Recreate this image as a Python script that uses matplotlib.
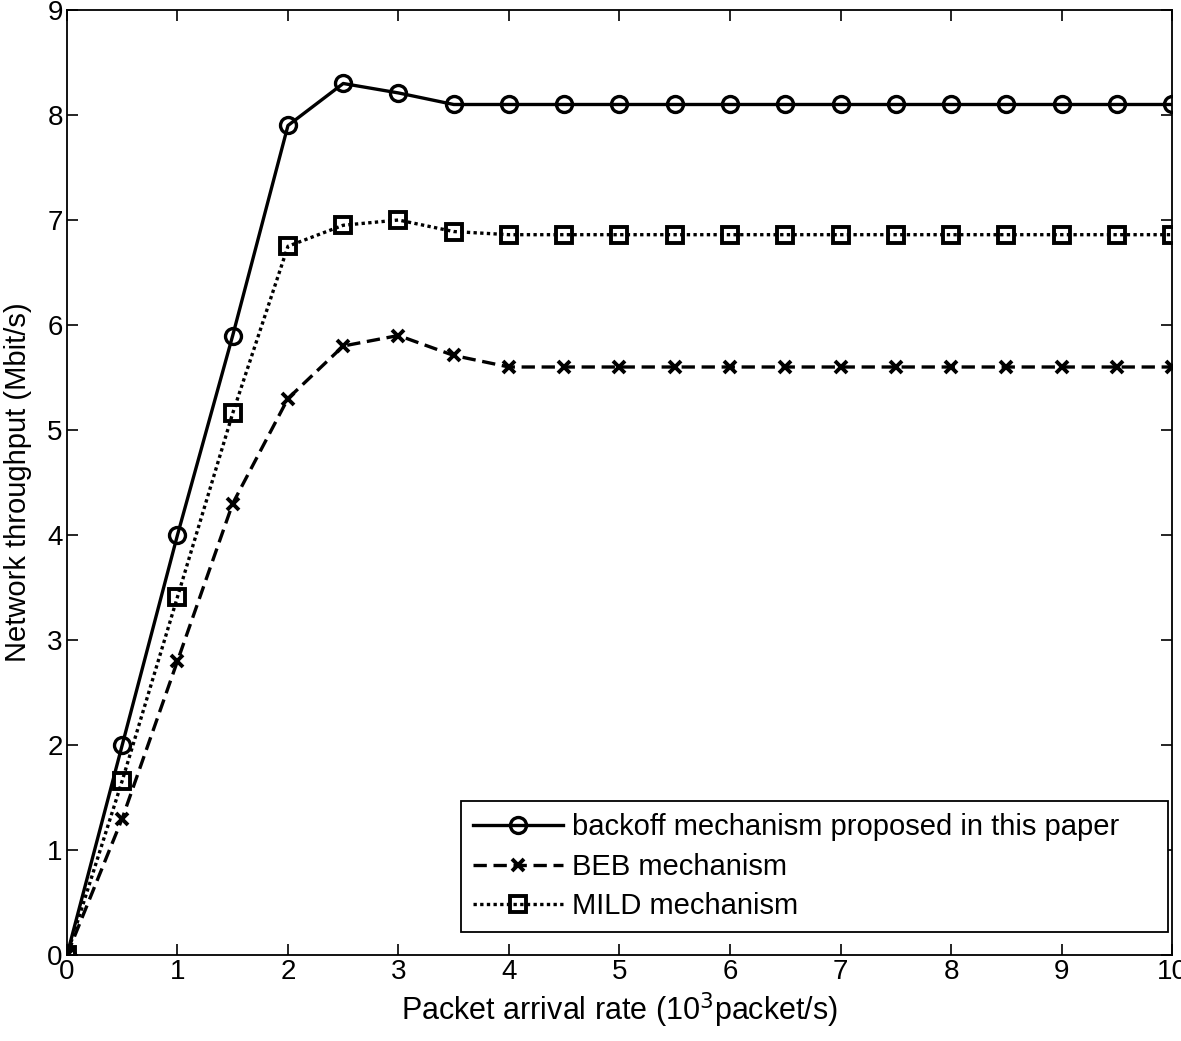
import matplotlib
matplotlib.use("Agg")
import matplotlib.pyplot as plt

plt.rcParams['font.family'] = ['Liberation Sans', 'DejaVu Sans']

rate = [0, 0.5, 1, 1.5, 2, 2.5, 3, 3.5, 4, 4.5, 5, 5.5, 6, 6.5, 7, 7.5, 8, 8.5, 9, 9.5, 10]
proposed = [0, 2.0, 4.0, 5.9, 7.9, 8.3, 8.21, 8.1, 8.1, 8.1, 8.1, 8.1, 8.1, 8.1, 8.1, 8.1, 8.1, 8.1, 8.1, 8.1, 8.1]
beb = [0, 1.3, 2.8, 4.3, 5.3, 5.8, 5.9, 5.71, 5.6, 5.6, 5.6, 5.6, 5.6, 5.6, 5.6, 5.6, 5.6, 5.6, 5.6, 5.6, 5.6]
mild = [0, 1.66, 3.41, 5.16, 6.75, 6.95, 7.0, 6.89, 6.86, 6.86, 6.86, 6.86, 6.86, 6.86, 6.86, 6.86, 6.86, 6.86, 6.86, 6.86, 6.86]

fig = plt.figure(figsize=(11.81, 10.41), dpi=100)
ax = fig.add_axes([0.0567, 0.0826, 0.9357, 0.9078])

lw = 2.4
ax.plot(rate, proposed, 'k-', marker='o', ms=11.5, mew=2.4, mfc='none', lw=lw,
        label="backoff mechanism proposed in this paper")
ax.plot(rate, beb, 'k--', marker='x', ms=9, mew=2.8, lw=lw, dashes=(4, 2),
        label="BEB mechanism")
ax.plot(rate, mild, 'k:', marker='s', ms=11, mew=2.8, mfc='none', lw=lw,
        dashes=(1, 1), label="MILD mechanism")

ax.set_xlim(0, 10)
ax.set_ylim(0, 9)
ax.set_xticks(range(0, 11))
ax.set_yticks(range(0, 10))
ax.tick_params(direction='in', top=True, right=True, length=8, width=1.2,
               labelsize=20, pad=3)
for s in ax.spines.values():
    s.set_linewidth(1.3)
ax.set_xlabel("Packet arrival rate (10$^3$packet/s)", fontsize=22, labelpad=4)
ax.set_ylabel("Network throughput (Mbit/s)", fontsize=21, labelpad=11)

leg = ax.legend(loc='lower left', bbox_to_anchor=(0.3566, 0.0243, 0.6398, 0.14),
                mode='expand', fontsize=21, handlelength=3.1, handletextpad=0.3,
                borderpad=0.4, labelspacing=0.4, borderaxespad=0,
                fancybox=False, framealpha=1, edgecolor='black')
leg.get_frame().set_linewidth(1.3)

fig.savefig("out.png", dpi=100)
